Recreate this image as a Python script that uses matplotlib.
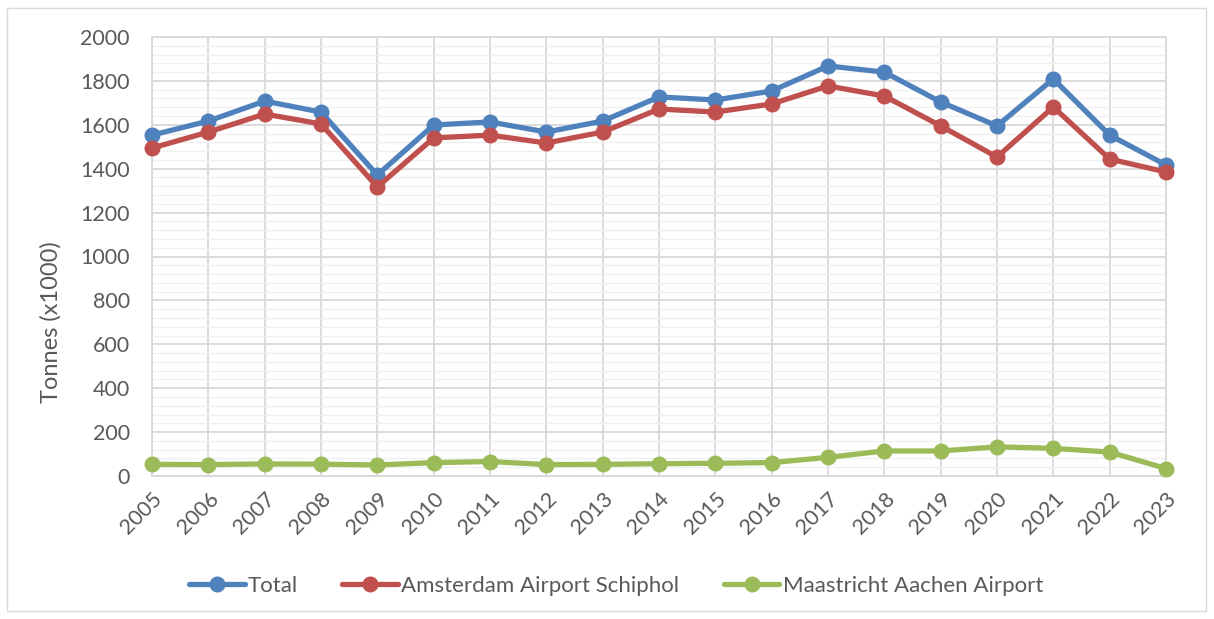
import matplotlib
matplotlib.use('Agg')
import matplotlib.pyplot as plt
from matplotlib.patches import Rectangle
from matplotlib.ticker import MultipleLocator

plt.rcParams['font.family'] = ['Lato', 'DejaVu Sans']

years = list(range(2005, 2024))
total = [1553, 1617, 1708, 1658, 1371, 1599, 1613, 1567, 1617, 1727,
         1713, 1754, 1868, 1840, 1704, 1595, 1809, 1553, 1417]
schiphol = [1494, 1567, 1649, 1604, 1317, 1540, 1553, 1517, 1567, 1672,
            1658, 1695, 1777, 1731, 1595, 1453, 1681, 1444, 1385]
maastricht = [53, 52, 55, 54, 50, 61, 66, 52, 53, 56,
              58, 61, 85, 114, 114, 133, 126, 109, 34]

series = [
    ("Total", total, "#4F81BD"),
    ("Amsterdam Airport Schiphol", schiphol, "#C0504D"),
    ("Maastricht Aachen Airport", maastricht, "#9BBB59"),
]

TEXT = "#595959"
GRID = "#D9D9D9"
MINOR = "#F0F0F0"

fig = plt.figure(figsize=(12.14, 6.19), dpi=100)
W, H = 1214, 619
ax = fig.add_axes([152 / W, 1 - 476 / H, (1166 - 152) / W, (476 - 37) / H])

# outer chart border
fig.patches.append(Rectangle((7 / W, 1 - 611 / H), (1206 - 7) / W, (611 - 8) / H,
                             transform=fig.transFigure, fill=False,
                             edgecolor=GRID, linewidth=1))

for name, vals, color in series:
    ax.plot(years, vals, color=color, linewidth=3.8, marker='o',
            markersize=10.5, label=name, solid_capstyle='round',
            zorder=3, clip_on=False)

ax.set_xlim(2005, 2023)
ax.set_ylim(0, 2000)
ax.yaxis.set_major_locator(MultipleLocator(200))
ax.yaxis.set_minor_locator(MultipleLocator(40))
ax.set_xticks(years)
ax.set_xticklabels([str(y) for y in years], rotation=45, ha='right',
                   rotation_mode='anchor', fontsize=15.5, color=TEXT)
ax.tick_params(axis='y', labelsize=15.5, labelcolor=TEXT)
ax.tick_params(which='both', length=0)
ax.tick_params(axis='x', pad=9)
ax.tick_params(axis='y', pad=16)

ax.grid(True, which='major', color=GRID, linewidth=1.3, zorder=0)
ax.grid(True, which='minor', axis='y', color=MINOR, linewidth=1.0, zorder=0)
ax.set_axisbelow(True)
for sp in ax.spines.values():
    sp.set_color(GRID)
    sp.set_linewidth(1.3)

ax.set_ylabel("Tonnes (x1000)", fontsize=17, color=TEXT)
ax.yaxis.set_label_coords((62 - 152) / (1166 - 152), (476 - 322) / (476 - 37))

leg = fig.legend(loc='center', bbox_to_anchor=(616 / W, 1 - 586 / H), ncol=3,
                 frameon=False, fontsize=16, handlelength=2.5,
                 columnspacing=2.0, handletextpad=0.15)
for t in leg.get_texts():
    t.set_color(TEXT)

fig.savefig("out.png", dpi=100)
